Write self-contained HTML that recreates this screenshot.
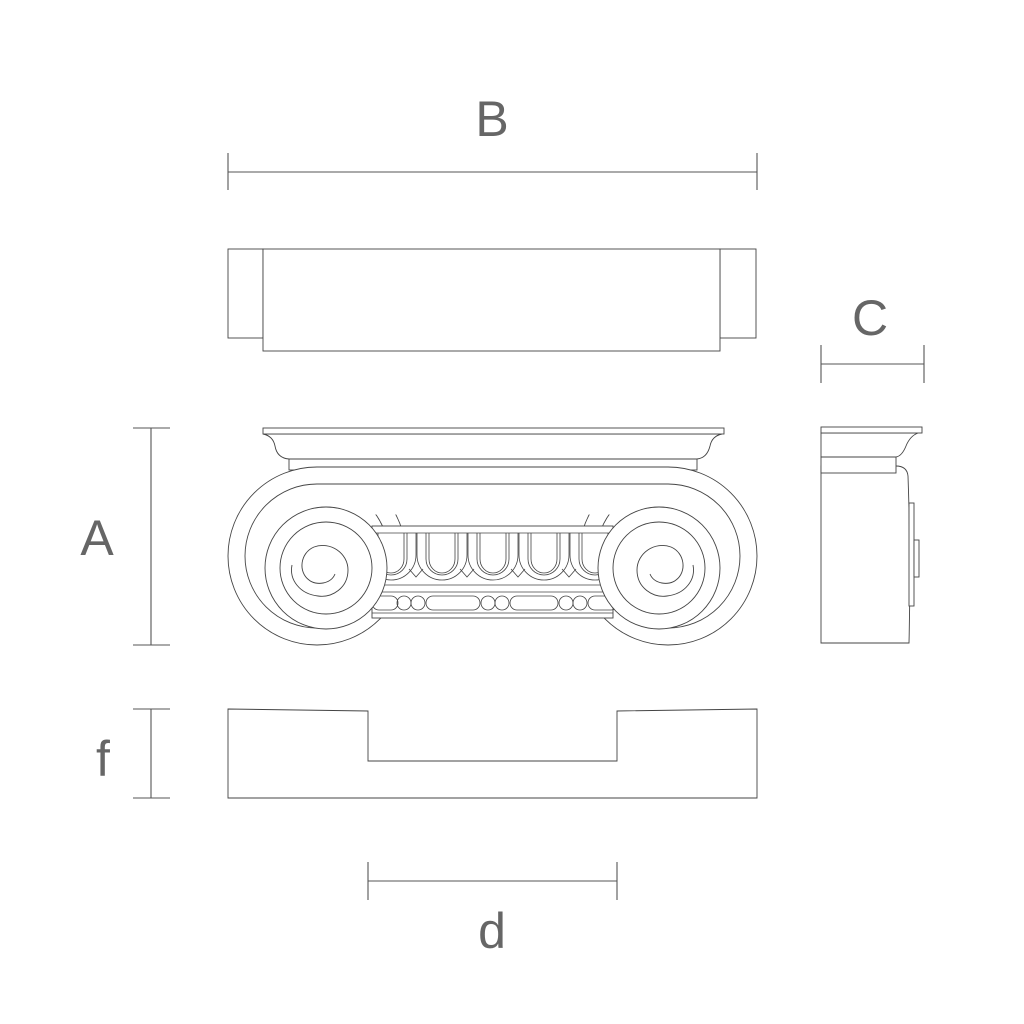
<!DOCTYPE html>
<html><head><meta charset="utf-8"><style>html,body{margin:0;padding:0;background:#fff}svg{display:block}text{font-family:"Liberation Sans",sans-serif;fill:#666}</style></head><body>
<svg width="1024" height="1024" viewBox="0 0 1024 1024" xmlns="http://www.w3.org/2000/svg">
<g fill="none" stroke="#555" stroke-width="1.1">
<line x1="228" y1="172" x2="757" y2="172"/><line x1="228" y1="153" x2="228" y2="190"/><line x1="757" y1="153" x2="757" y2="190"/>
<line x1="821" y1="364" x2="924" y2="364"/><line x1="821" y1="345" x2="821" y2="383"/><line x1="924" y1="345" x2="924" y2="383"/>
<line x1="151" y1="428" x2="151" y2="645"/><line x1="133" y1="428" x2="170" y2="428"/><line x1="133" y1="645" x2="170" y2="645"/>
<line x1="151" y1="709" x2="151" y2="798"/><line x1="133" y1="709" x2="170" y2="709"/><line x1="133" y1="798" x2="170" y2="798"/>
<line x1="368" y1="881" x2="617" y2="881"/><line x1="368" y1="862" x2="368" y2="900"/><line x1="617" y1="862" x2="617" y2="900"/>
</g>
<g fill="#fff" stroke="#444" stroke-width="0.9">
<rect x="228" y="249" width="35" height="89"/><rect x="720" y="249" width="36" height="89"/><rect x="263" y="249" width="457" height="102"/>
<path d="M228,709 L368,711 L368,761 L617,761 L617,711 L757,709 L757,798 L228,798 Z"/>
<path d="M896,466 Q907,466 908,476 Q911,560 909,643 L821,643 L821,466 Z"/>
<rect x="909" y="503" width="5" height="103"/><rect x="914" y="540" width="5" height="37"/>
<rect x="821" y="457" width="75" height="16"/>
<path d="M821,433 L918,433 Q910,436 906,446 Q902,456 896,457 L821,457 Z"/>
<rect x="821" y="427" width="101" height="6"/>
<rect x="289" y="456" width="408" height="14"/>
<path d="M263,434 L722,434 Q712,436 710,446 Q707,458 697,459 L289,459 Q277,458 275,446 Q273,436 263,434 Z"/>
<rect x="263" y="428" width="461" height="6"/>
<circle cx="317" cy="556" r="89"/><circle cx="668" cy="556" r="89"/>
<rect x="317" y="467.5" width="351" height="30" stroke="none"/>
<line x1="317" y1="467" x2="668" y2="467"/>
<circle cx="317" cy="556" r="72"/><circle cx="668" cy="556" r="72"/>
<rect x="317" y="484.5" width="351" height="30" stroke="none"/>
<line x1="317" y1="484" x2="668" y2="484"/>
<rect x="372" y="526" width="241" height="92"/>
</g>
<g fill="none" stroke="#444" stroke-width="0.8">
<line x1="372" y1="533" x2="613" y2="533"/>
<line x1="372" y1="585" x2="613" y2="585"/><line x1="372" y1="592" x2="613" y2="592"/><line x1="372" y1="613" x2="613" y2="613"/>
<path d="M366,533 V555 A25,25 0 0 0 416,555 V533 M417,533 V555 A25,25 0 0 0 467,555 V533 M468,533 V555 A25,25 0 0 0 518,555 V533 M519,533 V555 A25,25 0 0 0 569,555 V533 M570,533 V555 A25,25 0 0 0 620,555 V533"/>
<path d="M375,533 V559 A16,16 0 0 0 407,559 V533 M378,533 V559 A13,14 0 0 0 404,559 V533
M426,533 V559 A16,16 0 0 0 458,559 V533 M429,533 V559 A13,14 0 0 0 455,559 V533
M477,533 V559 A16,16 0 0 0 509,559 V533 M480,533 V559 A13,14 0 0 0 506,559 V533
M528,533 V559 A16,16 0 0 0 560,559 V533 M531,533 V559 A13,14 0 0 0 557,559 V533
M579,533 V559 A16,16 0 0 0 611,559 V533 M582,533 V559 A13,14 0 0 0 608,559 V533"/>
<path d="M409,569 L416,577 L423,569 M460,569 L467,577 L474,569 M511,569 L518,577 L525,569 M562,569 L569,577 L576,569"/>
<circle cx="404" cy="603" r="7"/><circle cx="418" cy="603" r="7"/><circle cx="488" cy="603" r="7"/><circle cx="502" cy="603" r="7"/><circle cx="566" cy="603" r="7"/><circle cx="580" cy="603" r="7"/>
<rect x="426" y="596" width="54" height="14" rx="7"/><rect x="510" y="596" width="48" height="14" rx="7"/>
<rect x="372" y="596" width="26" height="14" rx="7"/><rect x="588" y="596" width="30" height="14" rx="7"/>
</g>
<g fill="#fff" stroke="#444" stroke-width="0.9">
<circle cx="326" cy="568" r="61"/><circle cx="659" cy="568" r="61"/>
<circle cx="326" cy="568" r="46" fill="none"/><circle cx="659" cy="568" r="46" fill="none"/>
<path fill="none" d="M335,574 C331,584 316,586 309,580 C298,572 300,553 314,547 C330,541 348,553 348,570 C348,588 332,598 318,596 C300,594 289,580 292,565"/>
<path fill="none" d="M650,574 C654,584 669,586 676,580 C687,572 685,553 671,547 C655,541 637,553 637,570 C637,588 653,598 667,596 C685,594 696,580 693,565"/>
</g>
<text x="492" y="136" font-size="50" text-anchor="middle">B</text>
<text x="870" y="335" font-size="50" text-anchor="middle">C</text>
<text x="97" y="555" font-size="50" text-anchor="middle">A</text>
<text x="103" y="776" font-size="50" text-anchor="middle">f</text>
<text x="492" y="948" font-size="50" text-anchor="middle">d</text>
</svg>
</body></html>
